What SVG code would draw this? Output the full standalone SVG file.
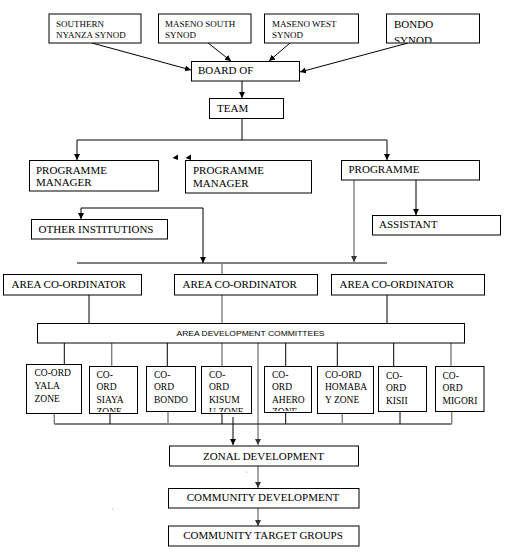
<svg xmlns="http://www.w3.org/2000/svg" width="507" height="552" viewBox="0 0 507 552">
<style>
.box{fill:#fff;stroke:#000;stroke-width:1}
.ln{fill:none;stroke:#000;stroke-width:1}
.gl{fill:none;stroke:#808080;stroke-width:1.4}
.t{font-family:"Liberation Serif","Times New Roman",serif;font-size:11px;fill:#000}
.s{font-family:"Liberation Serif","Times New Roman",serif;font-size:9px;fill:#000}
.c{font-family:"Liberation Serif","Times New Roman",serif;font-size:9.5px;fill:#000}
.sans{font-family:"Liberation Sans",Arial,sans-serif;font-size:8px;fill:#000}
</style>
<defs>
<marker id="ah" markerUnits="userSpaceOnUse" markerWidth="7" markerHeight="7" refX="6" refY="3" orient="auto"><path d="M0,0 L6,3 L0,6 z" fill="#000"/></marker>
<marker id="ahg" markerUnits="userSpaceOnUse" markerWidth="7" markerHeight="7" refX="6" refY="3" orient="auto"><path d="M0,0 L6,3 L0,6 z" fill="#333"/></marker>
<clipPath id="cpBondo"><rect x="386" y="14" width="93" height="28.5"/></clipPath>
<clipPath id="cpB2"><rect x="89" y="366" width="48" height="46"/></clipPath>
<clipPath id="cpB4"><rect x="201" y="366" width="51" height="46"/></clipPath>
<clipPath id="cpB5"><rect x="264" y="366" width="47" height="45"/></clipPath>
</defs>

<g id="connectors">
<path class="ln" d="M92,43 L191,70" marker-end="url(#ah)"/>
<path class="ln" d="M208,43 L231,61" marker-end="url(#ah)"/>
<path class="ln" d="M290,43 L269,61" marker-end="url(#ah)"/>
<path class="ln" d="M408,43 L300,72" marker-end="url(#ah)"/>
<path class="ln" d="M242,81 L242,98" marker-end="url(#ah)"/>
<path class="ln" d="M242,118 L242,140 M77,140 L387,140"/>
<path class="ln" d="M77,140 L77,160" marker-end="url(#ah)"/>
<path class="ln" d="M387,140 L387,160" marker-end="url(#ah)"/>
<polygon points="172.5,158 178,154.5 178,160" fill="#000"/>
<polygon points="185.5,158 191,154.5 191,160" fill="#000"/>
<path class="gl" d="M354,180 L354,262" marker-end="url(#ahg)"/>
<path class="ln" d="M416,180 L416,215" marker-end="url(#ah)"/>
<path class="ln" d="M203,208 L81,208 L81,219" marker-end="url(#ah)"/>
<path class="ln" d="M203,208 L203,263" marker-end="url(#ah)"/>
<path class="ln" d="M77,263 L387,263"/>
<path class="gl" d="M222,263 L222,274 M222,295 L222,323"/>
<path class="ln" d="M89,295 L89,323 M387,295 L387,323"/>
<path class="ln" d="M64.3,343 L64.3,364 M167.3,343 L167.3,366.5 M285.7,343 L285.7,366.5 M337.3,343 L337.3,366.5 M393.7,343 L393.7,366.5"/>
<path class="gl" d="M111.7,343 L111.7,366.5 M222,343 L222,366.5 M451,343 L451,366.5"/>
<path class="gl" d="M258,343 L258,445" marker-end="url(#ahg)"/>
<path class="ln" d="M54.3,424 L451.7,424"/>
<path class="gl" d="M54.3,413.5 L54.3,424 M168,411.5 L168,424 M342.3,413.5 L342.3,424 M451.7,411.5 L451.7,424"/>
<path class="ln" d="M110,413.5 L110,424 M222,413.5 L222,424 M285.7,411.5 L285.7,424 M400,411.5 L400,424"/>
<path class="ln" d="M233,417 L233,445" marker-end="url(#ah)"/>
<path class="gl" d="M258,466 L258,488" marker-end="url(#ahg)"/>
<path class="gl" d="M258,508 L258,526" marker-end="url(#ahg)"/>
<circle cx="246.7" cy="472" r="0.6" fill="#999"/>
<circle cx="112.7" cy="509" r="0.6" fill="#999"/>
</g>

<g id="southern-nyanza-synod"><rect class="box" x="49" y="14" width="92" height="29"/><text class="s" x="56" y="26.5">SOUTHERN</text><text class="s" x="56" y="38">NYANZA SYNOD</text></g>
<g id="maseno-south-synod"><rect class="box" x="158.5" y="14" width="92.5" height="29"/><text class="s" x="165" y="26.5">MASENO SOUTH</text><text class="s" x="165" y="38">SYNOD</text></g>
<g id="maseno-west-synod"><rect class="box" x="264.5" y="14" width="94" height="29"/><text class="s" x="272" y="26.5">MASENO WEST</text><text class="s" x="272" y="38">SYNOD</text></g>
<g id="bondo-synod"><rect class="box" x="386.5" y="14" width="93" height="29"/><g clip-path="url(#cpBondo)"><text class="t" x="394" y="27.5">BONDO</text><text class="t" x="394" y="43.5">SYNOD</text></g></g>

<g id="board-of"><rect class="box" x="191.5" y="61.5" width="108" height="19.5"/><text class="t" x="198" y="73.5">BOARD OF</text></g>
<g id="team"><rect class="box" x="209.5" y="98.5" width="74" height="20"/><text class="t" x="217" y="111.5">TEAM</text></g>

<g id="programme-manager-1"><rect class="box" x="29.5" y="160.5" width="129" height="30.5"/><text class="t" x="36" y="173.5">PROGRAMME</text><text class="t" x="36" y="185.5">MANAGER</text></g>
<g id="programme-manager-2"><rect class="box" x="185.5" y="160.5" width="126" height="32.5"/><text class="t" x="193" y="173.5">PROGRAMME</text><text class="t" x="193" y="186.5">MANAGER</text></g>
<g id="programme"><rect class="box" x="341.5" y="160.5" width="138" height="19.5"/><text class="t" x="348.5" y="173">PROGRAMME</text></g>
<g id="assistant"><rect class="box" x="372.5" y="215.5" width="128" height="19.5"/><text class="t" x="379" y="228">ASSISTANT</text></g>
<g id="other-institutions"><rect class="box" x="31.5" y="219.5" width="136" height="19.5"/><text class="t" x="38.5" y="232.5" textLength="115" lengthAdjust="spacingAndGlyphs">OTHER INSTITUTIONS</text></g>

<g id="area-coordinator-1"><rect class="box" x="3.5" y="274.5" width="138" height="20.5"/><text class="t" x="11.5" y="288">AREA CO-ORDINATOR</text></g>
<g id="area-coordinator-2"><rect class="box" x="174.5" y="274.5" width="143" height="20.5"/><text class="t" x="182.5" y="288">AREA CO-ORDINATOR</text></g>
<g id="area-coordinator-3"><rect class="box" x="331.5" y="274.5" width="153" height="20.5"/><text class="t" x="339.5" y="288">AREA CO-ORDINATOR</text></g>

<g id="area-development-committees"><rect class="box" x="37.5" y="323.5" width="427" height="19.5"/><text class="sans" x="250.5" y="336" text-anchor="middle" textLength="148" lengthAdjust="spacingAndGlyphs">AREA DEVELOPMENT COMMITTEES</text></g>

<g id="coord-yala"><rect class="box" x="26.5" y="364.5" width="55" height="49"/><text class="c" x="34.5" y="376">CO-ORD</text><text class="c" x="34.5" y="389">YALA</text><text class="c" x="34.5" y="402">ZONE</text></g>
<g id="coord-siaya"><rect class="box" x="89.5" y="366.5" width="48" height="47"/><g clip-path="url(#cpB2)"><text class="c" x="96.5" y="377.5">CO-</text><text class="c" x="96.5" y="390">ORD</text><text class="c" x="96.5" y="402.5">SIAYA</text><text class="c" x="96.5" y="415">ZONE</text></g></g>
<g id="coord-bondo"><rect class="box" x="146.5" y="366.5" width="49" height="45"/><text class="c" x="154" y="377.5">CO-</text><text class="c" x="154" y="390">ORD</text><text class="c" x="154" y="402.5">BONDO</text></g>
<g id="coord-kisumu"><rect class="box" x="201.5" y="366.5" width="50" height="47"/><g clip-path="url(#cpB4)"><text class="c" x="209" y="377.5">CO-</text><text class="c" x="209" y="390">ORD</text><text class="c" x="209" y="402.5">KISUM</text><text class="c" x="209" y="415">U ZONE</text></g></g>
<g id="coord-ahero"><rect class="box" x="264.5" y="366.5" width="47" height="46"/><g clip-path="url(#cpB5)"><text class="c" x="272" y="377.5">CO-</text><text class="c" x="272" y="390">ORD</text><text class="c" x="272" y="402.5">AHERO</text><text class="c" x="272" y="415">ZONE</text></g></g>
<g id="coord-homabay"><rect class="box" x="317.5" y="366.5" width="56" height="47"/><text class="c" x="325" y="377.5">CO-ORD</text><text class="c" x="325" y="390">HOMABA</text><text class="c" x="325" y="402.5">Y  ZONE</text></g>
<g id="coord-kisii"><rect class="box" x="378.5" y="366.5" width="48" height="45"/><text class="c" x="386" y="378.5">CO-</text><text class="c" x="386" y="391">ORD</text><text class="c" x="386" y="403.5">KISII</text></g>
<g id="coord-migori"><rect class="box" x="435.5" y="366.5" width="48.5" height="45"/><text class="c" x="442.5" y="378.5">CO-</text><text class="c" x="442.5" y="391">ORD</text><text class="c" x="442.5" y="403.5">MIGORI</text></g>

<g id="zonal-development"><rect class="box" x="169.5" y="446" width="189" height="20"/><text class="t" x="263.5" y="459.5" text-anchor="middle">ZONAL DEVELOPMENT</text></g>
<g id="community-development"><rect class="box" x="168.5" y="488.5" width="190.5" height="19.5"/><text class="t" x="263" y="501" text-anchor="middle">COMMUNITY DEVELOPMENT</text></g>
<g id="community-target-groups"><rect class="box" x="168.5" y="526" width="190.5" height="20"/><text class="t" x="263" y="539" text-anchor="middle">COMMUNITY TARGET GROUPS</text></g>
</svg>
